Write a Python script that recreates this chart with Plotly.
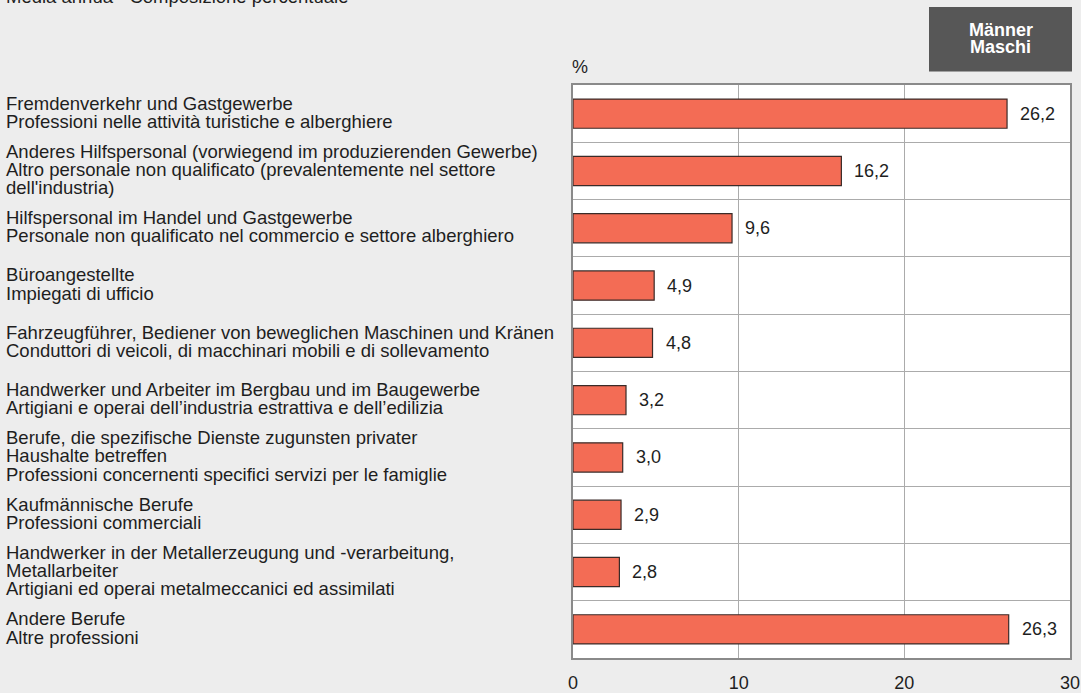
import plotly.graph_objects as go

categories = [
    "Fremdenverkehr und Gastgewerbe<br>Professioni nelle attività turistiche e alberghiere",
    "Anderes Hilfspersonal (vorwiegend im produzierenden Gewerbe)<br>Altro personale non qualificato (prevalentemente nel settore<br>dell'industria)",
    "Hilfspersonal im Handel und Gastgewerbe<br>Personale non qualificato nel commercio e settore alberghiero",
    "Büroangestellte<br>Impiegati di ufficio",
    "Fahrzeugführer, Bediener von beweglichen Maschinen und Kränen<br>Conduttori di veicoli, di macchinari mobili e di sollevamento",
    "Handwerker und Arbeiter im Bergbau und im Baugewerbe<br>Artigiani e operai dell’industria estrattiva e dell’edilizia",
    "Berufe, die spezifische Dienste zugunsten privater<br>Haushalte betreffen<br>Professioni concernenti specifici servizi per le famiglie",
    "Kaufmännische Berufe<br>Professioni commerciali",
    "Handwerker in der Metallerzeugung und -verarbeitung,<br>Metallarbeiter<br>Artigiani ed operai metalmeccanici ed assimilati",
    "Andere Berufe<br>Altre professioni",
]
values = [26.2, 16.2, 9.6, 4.9, 4.8, 3.2, 3.0, 2.9, 2.8, 26.3]
value_labels = ["26,2", "16,2", "9,6", "4,9", "4,8", "3,2", "3,0", "2,9", "2,8", "26,3"]
x_ticks = [0, 10, 20, 30]
title_text = "Media annua - Composizione percentuale"
box_lines = ["Männer", "Maschi"]
unit_text = "%"

W, H = 1081, 693
L, R, T, B = 573, 11, 85, 35
PW, PH = W - L - R, H - T - B
FONT = "Liberation Sans, Arial, sans-serif"
TXT = "#1e1e1e"

def px_x(p):
    return (p - L) / PW

def px_y(p):
    return (H - B - p) / PH

n = len(categories)
ypos = list(range(n))

fig = go.Figure()
fig.add_trace(go.Bar(
    x=values, y=ypos, orientation="h", width=0.51,
    marker=dict(color="#F36C55", line=dict(color="#3a2b28", width=1.2)),
    hoverinfo="skip",
))

ann = []
for i, (cat, v, lab) in enumerate(zip(categories, values, value_labels)):
    lines = cat.split("<br>")
    m = len(lines)
    for j, line in enumerate(lines):
        ann.append(dict(
            x=px_x(4), xref="paper", y=i, yref="y", text=line,
            xanchor="left", yanchor="middle", showarrow=False,
            yshift=-(j - (m - 1) / 2) * 18.3 + 1.5,
            font=dict(size=18.5, color=TXT, family=FONT),
        ))
    ann.append(dict(
        x=v, xref="x", y=i, yref="y", text=lab, xanchor="left", yanchor="middle",
        showarrow=False, xshift=11, font=dict(size=18, color=TXT, family=FONT),
    ))

ann.append(dict(x=px_x(4), xref="paper", y=px_y(-3), yref="paper", text=title_text,
                xanchor="left", yanchor="middle", showarrow=False,
                font=dict(size=18.5, color=TXT, family=FONT)))
ann.append(dict(x=px_x(570), xref="paper", y=px_y(67), yref="paper", text=unit_text,
                xanchor="left", yanchor="middle", showarrow=False,
                font=dict(size=18, color=TXT, family=FONT)))
for j, line in enumerate(box_lines):
    ann.append(dict(x=px_x(1000.5), xref="paper", y=px_y(30 + 16.5 * j), yref="paper",
                    text="<b>" + line + "</b>", xanchor="center", yanchor="middle",
                    showarrow=False, font=dict(size=18, color="#ffffff", family=FONT)))

shapes = [dict(type="rect", xref="paper", yref="paper",
               x0=px_x(929), x1=px_x(1072), y0=px_y(71.5), y1=px_y(7),
               fillcolor="#575757", line=dict(width=0), layer="below")]

fig.update_layout(
    width=W, height=H,
    margin=dict(l=L, r=R, t=T, b=B, pad=0),
    paper_bgcolor="#EDEDED", plot_bgcolor="#FFFFFF",
    showlegend=False, annotations=ann, shapes=shapes,
    font=dict(family=FONT, size=18, color=TXT),
    xaxis=dict(range=[0, 30], tickvals=x_ticks, ticktext=[str(t) for t in x_ticks],
               showgrid=True, gridcolor="#ABABAB", gridwidth=1,
               showline=True, linecolor="#8a8a8a", linewidth=1.5, mirror=True,
               ticks="outside", ticklen=8, tickcolor="rgba(0,0,0,0)",
               zeroline=False, fixedrange=True, automargin=False,
               tickfont=dict(size=18, color=TXT, family=FONT)),
    yaxis=dict(range=[n - 0.5, -0.5], tickvals=[k + 0.5 for k in range(n - 1)],
               showticklabels=False, ticks="", showgrid=True, gridcolor="#ABABAB",
               gridwidth=1, showline=True, linecolor="#8a8a8a", linewidth=1.5,
               mirror=True, zeroline=False, fixedrange=True, automargin=False),
)

fig.write_html(
    "out.html",
    config={"displayModeBar": False},
    post_script="document.body.style.margin='0';document.body.style.overflow='hidden';",
)
